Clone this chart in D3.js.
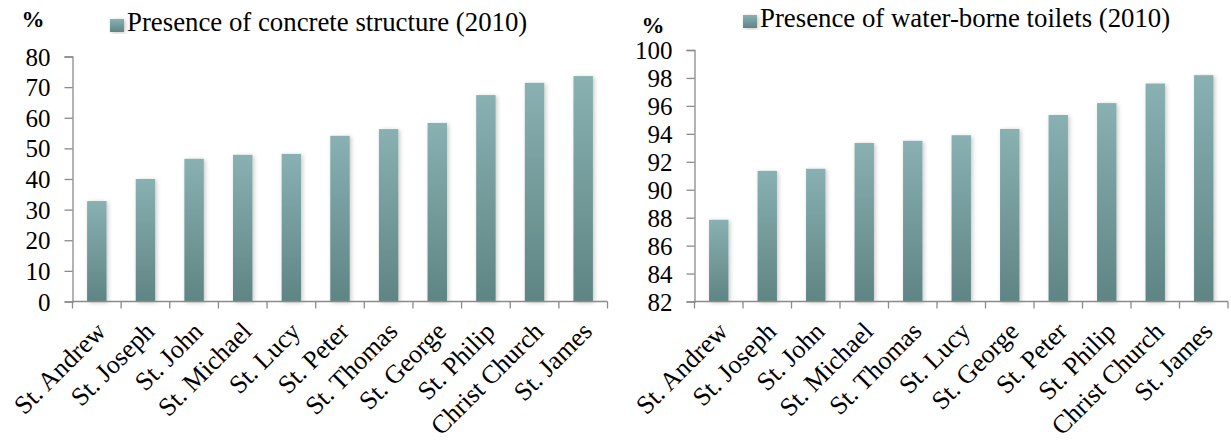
<!DOCTYPE html>
<html>
<head>
<meta charset="utf-8">
<script src="https://cdn.jsdelivr.net/npm/d3@7"></script>
<style>
  html, body { margin: 0; padding: 0; background: #fff; }
  svg { display: block; }
  text { font-family: "Liberation Serif", "Times New Roman", serif; fill: #000; }
</style>
</head>
<body>
<svg id="chart" width="1231" height="441"></svg>
<script>
// Concrete structure share by parish (2010), %
const concreteParishes = ["St. Andrew", "St. Joseph", "St. John", "St. Michael", "St. Lucy",
  "St. Peter", "St. Thomas", "St. George", "St. Philip", "Christ Church", "St. James"];
const concreteValues = [32.8, 40.0, 46.6, 47.9, 48.2, 54.1, 56.3, 58.3, 67.4, 71.4, 73.6];
const concreteTicks = [0, 10, 20, 30, 40, 50, 60, 70, 80];

// Water-borne toilet share by parish (2010), %
const toiletParishes = ["St. Andrew", "St. Joseph", "St. John", "St. Michael", "St. Thomas",
  "St. Lucy", "St. George", "St. Peter", "St. Philip", "Christ Church", "St. James"];
const toiletValues = [87.85, 91.35, 91.5, 93.35, 93.5, 93.9, 94.35, 95.35, 96.2, 97.6, 98.2];
const toiletTicks = [82, 84, 86, 88, 90, 92, 94, 96, 98, 100];

const SERIF = "'Liberation Serif', 'Times New Roman', serif";
const svg = d3.select("#chart");
const defs = svg.append("defs");

// Teal bar fill, lighter at the top
const grad = defs.append("linearGradient")
  .attr("id", "barFill").attr("x1", 0).attr("y1", 0).attr("x2", 0).attr("y2", 1);
grad.append("stop").attr("offset", "0%").attr("stop-color", "#89b1b1");
grad.append("stop").attr("offset", "100%").attr("stop-color", "#5f8484");

// Soft shadow behind each bar
const shadow = defs.append("filter").attr("id", "barShadow")
  .attr("x", "-40%").attr("y", "-10%").attr("width", "180%").attr("height", "120%");
shadow.append("feDropShadow").attr("dx", 1.5).attr("dy", 1).attr("stdDeviation", 2)
  .attr("flood-color", "#000").attr("flood-opacity", 0.22);

const AXIS_COLOR = "#8a8a8a";

function drawPanel(cfg) {
  const g = svg.append("g").attr("font-family", SERIF);

  const x = d3.scaleBand()
    .domain(cfg.categories)
    .range([cfg.x0, cfg.x1])
    .paddingInner(0.6)
    .paddingOuter(0.3);

  const y = d3.scaleLinear()
    .domain([cfg.ticks[0], cfg.ticks[cfg.ticks.length - 1]])
    .range([cfg.yBottom, cfg.yTop]);

  // Bars
  g.append("g").selectAll("rect")
    .data(cfg.categories.map((c, i) => ({ c, v: cfg.values[i] })))
    .join("rect")
    .attr("x", d => x(d.c))
    .attr("width", x.bandwidth())
    .attr("y", d => y(d.v))
    .attr("height", d => y(cfg.ticks[0]) - y(d.v))
    .attr("fill", "url(#barFill)")
    .attr("filter", "url(#barShadow)");

  // Value axis
  const yAxis = g.append("g")
    .attr("transform", `translate(${cfg.x0},0)`)
    .call(d3.axisLeft(y).tickValues(cfg.ticks).tickSize(8).tickPadding(14).tickFormat(d3.format("d")));
  yAxis.attr("font-family", SERIF).attr("font-size", 25);
  yAxis.select(".domain").attr("stroke", AXIS_COLOR).attr("stroke-width", 1.3);
  yAxis.selectAll(".tick line").attr("stroke", AXIS_COLOR).attr("stroke-width", 1.3);
  yAxis.selectAll(".tick text")
    .attr("dy", "0.34em")
    .style("font-family", SERIF)
    .style("font-size", "25px")
    .attr("fill", "#000");

  // Category axis: labels at band centres, tick marks at band edges
  const xAxis = g.append("g")
    .attr("transform", `translate(0,${y(cfg.ticks[0])})`)
    .call(d3.axisBottom(x).tickSize(0).tickPadding(0));
  xAxis.attr("font-family", SERIF).attr("font-size", 26);
  xAxis.select(".domain").remove();
  xAxis.selectAll(".tick text")
    .attr("x", 0).attr("y", 0).attr("dy", "0.35em")
    .attr("text-anchor", "end")
    .style("font-family", SERIF)
    .style("font-size", "26px")
    .attr("fill", "#000")
    .attr("transform", "translate(4,25) rotate(-45)");

  const yBase = y(cfg.ticks[0]);
  const edges = d3.range(cfg.categories.length + 1).map(i => cfg.x0 + x.step() * i);
  g.append("line")
    .attr("x1", cfg.x0).attr("x2", edges[edges.length - 1])
    .attr("y1", yBase).attr("y2", yBase)
    .attr("stroke", AXIS_COLOR).attr("stroke-width", 1.3);
  g.append("g").selectAll("line")
    .data(edges)
    .join("line")
    .attr("x1", d => d).attr("x2", d => d)
    .attr("y1", yBase).attr("y2", yBase + 7)
    .attr("stroke", AXIS_COLOR).attr("stroke-width", 1.3);

  // Unit label
  g.append("text")
    .attr("x", cfg.unitX).attr("y", cfg.unitY)
    .attr("text-anchor", "middle")
    .attr("font-size", 23).attr("font-weight", "bold")
    .text("%");

  // Legend
  g.append("rect")
    .attr("x", cfg.legendX).attr("y", cfg.legendY - 12)
    .attr("width", 14).attr("height", 13)
    .attr("fill", "url(#barFill)")
    .attr("filter", "url(#barShadow)");
  g.append("text")
    .attr("x", cfg.legendX + 17).attr("y", cfg.legendY)
    .attr("font-size", 26.8)
    .text(cfg.legend);
}

drawPanel({
  categories: concreteParishes,
  values: concreteValues,
  ticks: concreteTicks,
  x0: 72.5, x1: 607.5,
  yBottom: 301.5, yTop: 56.5,
  unitX: 33, unitY: 27,
  legendX: 110, legendY: 31,
  legend: "Presence of concrete structure (2010)"
});

drawPanel({
  categories: toiletParishes,
  values: toiletValues,
  ticks: toiletTicks,
  x0: 694.5, x1: 1228,
  yBottom: 301.5, yTop: 50,
  unitX: 653, unitY: 33,
  legendX: 743, legendY: 27,
  legend: "Presence of water-borne toilets (2010)"
});
</script>
</body>
</html>
